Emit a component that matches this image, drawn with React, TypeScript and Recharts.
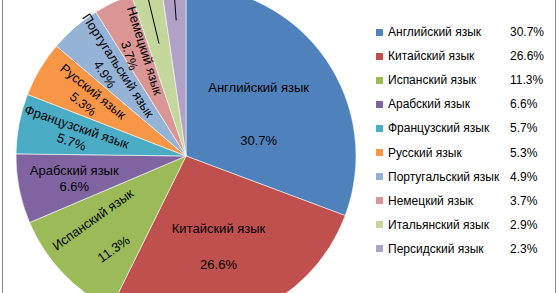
import React from "react";
import { PieChart, Pie, Cell, Legend } from "recharts";

const languages = [
  "Английский язык",
  "Китайский язык",
  "Испанский язык",
  "Арабский язык",
  "Французский язык",
  "Русский язык",
  "Португальский язык",
  "Немецкий язык",
  "Итальянский язык",
  "Персидский язык",
];
const shares = [30.7, 26.6, 11.3, 6.6, 5.7, 5.3, 4.9, 3.7, 2.9, 2.3];
const palette = [
  "#4F81BD", "#C0504D", "#9BBB59", "#8064A2", "#4BACC6",
  "#F79646", "#95B3D7", "#D99694", "#C3D69B", "#B2A1C7",
];

const data = languages.map((name, i) => ({ name, value: shares[i] }));

const FONT = "'Liberation Sans', Arial, sans-serif";
const RAD = Math.PI / 180;

const fmt = (v: number) => `${v.toFixed(1)}%`;

function renderLabel(props: any) {
  const { cx, cy, midAngle, outerRadius, index } = props;
  const share = shares[index];
  const m = ((midAngle % 360) + 360) % 360;
  const cos = Math.cos(m * RAD);
  const sin = Math.sin(m * RAD);

  // thin slices: leader line running out past the top edge (their labels sit above the crop)
  if (share < 3.5) {
    const r1 = outerRadius * (share < 2.5 ? 0.8 : 0.68);
    const r2 = outerRadius * 1.2;
    return (
      <line
        x1={cx + r1 * cos}
        y1={cy - r1 * sin}
        x2={cx + r2 * cos}
        y2={cy - r2 * sin}
        stroke="#000"
        strokeWidth={1}
      />
    );
  }

  const left = cos < 0;
  let rot = left ? 188 - m : 0;
  if (Math.abs(rot) < 6) rot = 0;
  const r = outerRadius * (left ? 0.67 : 0.52);
  const x = cx + r * cos;
  const y = cy - r * sin + (left ? 0 : 8);
  const gap = share >= 28 ? 53 : share >= 10 ? 36 : 16;

  return (
    <g transform={`translate(${x},${y}) rotate(${rot})`}>
      <text
        x={0}
        y={-gap / 2}
        textAnchor="middle"
        dominantBaseline="central"
        fontFamily={FONT}
        fontSize={13}
        fill="#000"
      >
        {languages[index]}
      </text>
      <text
        x={0}
        y={gap / 2}
        textAnchor="middle"
        dominantBaseline="central"
        fontFamily={FONT}
        fontSize={13}
        fill="#000"
      >
        {fmt(share)}
      </text>
    </g>
  );
}

function LegendBox() {
  return (
    <div style={{ fontFamily: FONT, fontSize: 12, color: "#000" }}>
      {languages.map((name, i) => (
        <div
          key={name}
          style={{ position: "relative", height: 24.1, display: "flex", alignItems: "center" }}
        >
          <span
            style={{
              display: "inline-block",
              width: 7,
              height: 7,
              background: palette[i],
              marginRight: 5,
            }}
          />
          <span style={{ whiteSpace: "nowrap" }}>{name}</span>
          <span style={{ position: "absolute", left: 134 }}>{fmt(shares[i])}</span>
        </div>
      ))}
    </div>
  );
}

export default function App() {
  return (
    <div
      style={{
        position: "absolute",
        left: 0,
        top: 0,
        width: 559,
        height: 293,
        overflow: "hidden",
        background: "#fff",
      }}
    >
      <div
        style={{
          position: "absolute",
          left: 2,
          top: -6,
          width: 552,
          height: 303,
          border: "1px solid #8a8a8a",
        }}
      />
      <PieChart width={559} height={293} margin={{ top: 0, right: 0, bottom: 0, left: 0 }}>
        <Pie
          data={data}
          dataKey="value"
          nameKey="name"
          cx={186}
          cy={156}
          outerRadius={170}
          startAngle={90}
          endAngle={-270}
          label={renderLabel}
          labelLine={false}
          stroke="#ffffff"
          strokeWidth={0.8}
          strokeOpacity={0.7}
          isAnimationActive={false}
        >
          {data.map((d, i) => (
            <Cell key={d.name} fill={palette[i]} />
          ))}
        </Pie>
        <Legend
          layout="vertical"
          align="right"
          verticalAlign="top"
          content={() => <LegendBox />}
          wrapperStyle={{ left: 376, top: 20, width: 180, right: "auto" }}
        />
      </PieChart>
    </div>
  );
}
